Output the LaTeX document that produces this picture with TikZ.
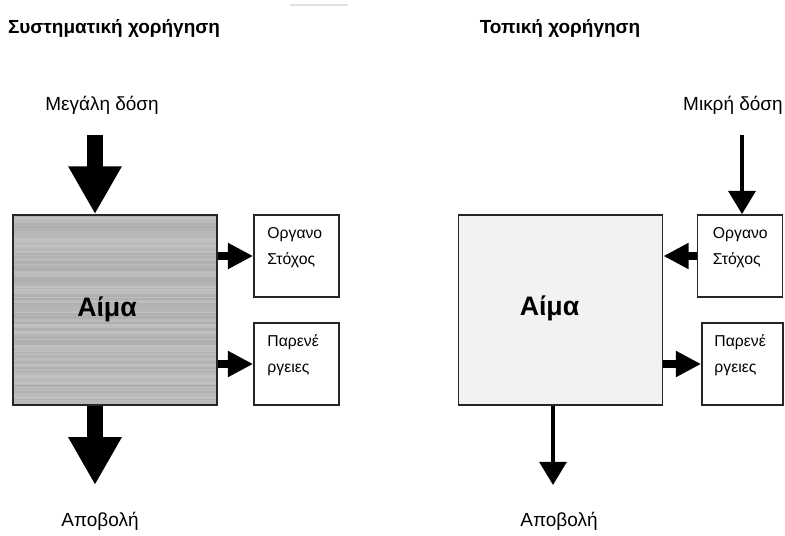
\documentclass[tikz,border=0pt]{standalone}
\usepackage{fontspec}
\setmainfont{Liberation Sans}
\usetikzlibrary{arrows.meta,calc}

\tikzset{
	title/.style={font=\fontsize{13.5}{16}\selectfont\bfseries},
	dose/.style={font=\fontsize{13.5}{16}\selectfont},
	bloodbox/.style={draw=black!85, line width=1.2pt, minimum width=5.1cm, minimum height=4.75cm, inner sep=0pt},
	organbox/.style={draw=black!85, line width=1.2pt, minimum width=2.125cm, minimum height=2.05cm, inner sep=0pt},
	boxtext/.style={anchor=north west, inner sep=0pt, align=left, font=\fontsize{11.2}{18.5}\selectfont},
	bigarrow/.style={line width=10.7pt, -{Triangle[width=35.6pt,length=34pt]}},
	thinarrow/.style={line width=3pt, -{Triangle[width=19pt,length=16.5pt]}},
	sidearrow/.style={line width=5pt, -{Triangle[width=17.5pt,length=18pt]}},
}

\begin{document}
\begin{tikzpicture}[x=0.025cm, y=-0.025cm]

	\useasboundingbox (0,0) rectangle (785,535);

	% ---- faint mark on top

	\draw[black!12, line width=1.5pt] (290,5) -- (348,5);

	% ---- titles

	\node[title] (titleL) at (114,28) {Συστηματική χορήγηση};
	\node[title] (titleR) at (560,28) {Τοπική χορήγηση};

	% ---- systemic side

	\node[dose] (doseL) at (102,105) {Μεγάλη δόση};
	\coordinate (inL) at (95,135);
	\coordinate (outL) at (95,485);

	\node[bloodbox, fill=black!28] (bloodL) at (115,310) {};
	\pgfmathsetseed{7}
	\foreach \yy in {216.5,218,...,403.5} {
		\pgfmathsetmacro{\shade}{24+8*rnd}
		\draw[black!\shade, line width=1.1pt] (14,\yy) -- (216,\yy);
	}
	\node[bloodbox] at (bloodL) {};
	\node[font=\fontsize{19}{22}\selectfont\bfseries] (bloodtextL) at (107,309) {Αίμα};

	\node[organbox] (organL) at (296.5,256) {};
	\node[organbox] (sideL) at (296.5,364) {};
	\node[boxtext] at ($(organL.north west)+(14,13)$) {Οργανο\\Στόχος};
	\node[boxtext] at ($(sideL.north west)+(14,12)$) {Παρενέ\\ργειες};

	\draw[bigarrow] (inL) -- (inL |- bloodL.north);
	\draw[bigarrow] (outL |- bloodL.south) -- (outL);
	\draw[sidearrow] (bloodL.east |- organL) -- (organL.west);
	\draw[sidearrow] (bloodL.east |- sideL) -- (sideL.west);

	\node[dose] (outtextL) at (100,521) {Αποβολή};

	% ---- local side

	\node[dose] (doseR) at (733,105) {Μικρή δόση};
	\coordinate (inR) at (742,135);
	\coordinate (outR) at (553,485);

	\node[bloodbox, fill=black!5] (bloodR) at (560.5,310) {};
	\node[font=\fontsize{19}{22}\selectfont\bfseries] (bloodtextR) at (549.5,308) {Αίμα};

	\node[organbox] (organR) at (740,256) {};
	\node[organbox, minimum width=2.025cm] (sideR) at (742.5,364) {};
	\node[boxtext] at ($(organR.north west)+(16,13)$) {Οργανο\\Στόχος};
	\node[boxtext] at ($(sideR.north west)+(13,12)$) {Παρενέ\\ργειες};

	\draw[thinarrow] (inR) -- (inR |- organR.north);
	\draw[sidearrow] (organR.west) -- (bloodR.east |- organR);
	\draw[sidearrow] (bloodR.east |- sideR) -- (sideR.west);
	\draw[thinarrow] (outR |- bloodR.south) -- (outR);

	\node[dose] (outtextR) at (559,521) {Αποβολή};

\end{tikzpicture}
\end{document}
